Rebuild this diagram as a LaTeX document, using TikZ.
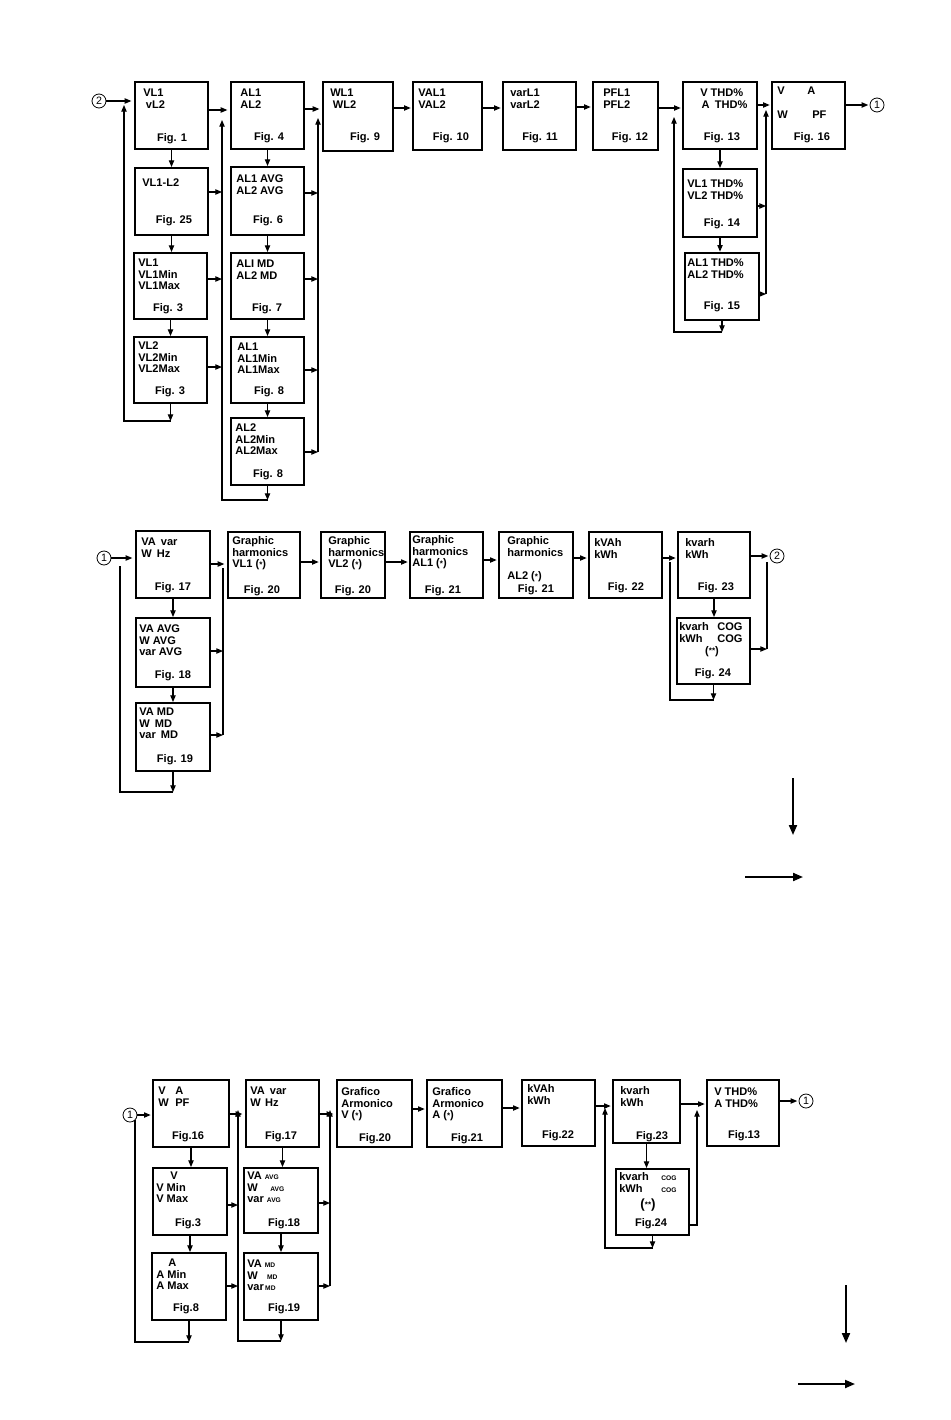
\documentclass[tikz,border=0pt]{standalone}
\usepackage{fontspec}
\setmainfont{Liberation Sans}
\usetikzlibrary{arrows.meta,fit}
\newcommand\smst{{\fontsize{6pt}{6pt}\selectfont\raisebox{0.4pt}{*}}}
\newcommand\smc[1]{{\fontsize{5pt}{5pt}\selectfont #1}}
\newcommand\Bx[6][]{\node[bx,#1, fit={(#3,#4) (#5,#6)}] (#2) {};}
\newcommand\Tx[4]{\node[tx, anchor=north west] (#1) at (#2,#3) {\rule{0pt}{6.3pt}#4};}
\newcommand\Fg[4]{\node[tx, anchor=base] (#1) at (#2,#3) {#4};}
\newcommand\Dn[2]{\draw[arr] (#1.south) -- (#1.south |- #2.north);}
\tikzset{
  bx/.style={draw, line width=1.5pt, inner sep=0pt},
  tx/.style={font=\fontsize{8.3pt}{8.6pt}\selectfont\bfseries, inner sep=0pt, align=left},
  arr/.style={line width=0.8pt, -{Triangle[length=5pt,width=4pt]}},
  ln/.style={line width=0.8pt},
  bigarr/.style={line width=1.5pt, -{Triangle[length=7.5pt,width=6pt]}},
  circ/.style={circle, draw, line width=0.6pt, minimum size=10.5pt, inner sep=0pt, font=\fontsize{8pt}{8pt}\selectfont}
}
\begin{document}
\begin{tikzpicture}[x=0.75pt,y=-0.75pt]
\fill[white] (0,0) rectangle (950,1420);
\useasboundingbox (0,0) rectangle (950,1420);

% ---------------- Section 1 ----------------
\Bx{b1}{135}{82}{208}{149}
\Tx{t1}{143}{88}{VL1\\\hspace*{2pt}vL2}
\Fg{f1}{172}{141}{Fig. 1}
\Bx{b25}{135}{168}{208}{235}
\Tx{t25}{142}{178}{VL1-L2}
\Fg{f25}{174}{223}{Fig. 25}
\Bx{b3a}{134}{253}{207}{319}
\Tx{t3a}{138}{258}{VL1\\VL1Min\\VL1Max}
\Fg{f3a}{168}{311}{Fig. 3}
\Bx{b3b}{134}{337}{207}{403}
\Tx{t3b}{138}{341}{VL2\\VL2Min\\VL2Max}
\Fg{f3b}{170}{394}{Fig. 3}

\Bx{b4}{231}{82}{304}{149}
\Tx{t4}{240}{88}{AL1\\AL2}
\Fg{f4}{269}{140}{Fig. 4}
\Bx{b6}{231}{167}{304}{235}
\Tx{t6}{236}{174}{AL1 AVG\\AL2 AVG}
\Fg{f6}{268}{223}{Fig. 6}
\Bx{b7}{231}{253}{304}{319}
\Tx{t7}{236}{259}{ALI MD\\AL2 MD}
\Fg{f7}{267}{311}{Fig. 7}
\Bx{b8a}{231}{337}{304}{403}
\Tx{t8a}{237}{342}{AL1\\AL1Min\\AL1Max}
\Fg{f8a}{269}{394}{Fig. 8}
\Bx{b8b}{231}{418}{304}{485}
\Tx{t8b}{235}{423}{AL2\\AL2Min\\AL2Max}
\Fg{f8b}{268}{477}{Fig. 8}

\Bx{b9}{323}{82}{393}{151}
\Tx{t9}{330}{88}{WL1\\\hspace*{2pt}WL2}
\Fg{f9}{365}{140}{Fig. 9}
\Bx{b10}{413}{82}{482}{150}
\Tx{t10}{418}{88}{VAL1\\VAL2}
\Fg{f10}{451}{140}{Fig. 10}
\Bx{b11}{503}{82}{576}{150}
\Tx{t11}{510}{88}{varL1\\varL2}
\Fg{f11}{540}{140}{Fig. 11}
\Bx{b12}{593}{82}{658}{150}
\Tx{t12}{603}{88}{PFL1\\PFL2}
\Fg{f12}{630}{140}{Fig. 12}
\Bx{b13}{683}{82}{757}{149}
\Tx{t13}{700}{88}{V THD\%\\\hspace*{1pt}A\hspace{4pt}THD\%}
\Fg{f13}{722}{140}{Fig. 13}
\Bx{b16}{772}{82}{845}{149}
\Tx{t16a}{777}{86}{V}
\Tx{t16b}{807}{86}{A}
\Tx{t16c}{777}{110}{W}
\Tx{t16d}{812}{110}{PF}
\Fg{f16}{812}{140}{Fig. 16}
\Bx{b14}{683}{169}{757}{237}
\Tx{t14}{687}{179}{VL1 THD\%\\VL2 THD\%}
\Fg{f14}{722}{226}{Fig. 14}
\Bx[line width=2pt]{b15}{685}{253}{759}{320}
\Tx{t15}{687}{258}{AL1 THD\%\\AL2 THD\%}
\Fg{f15}{722}{309}{Fig. 15}

\node[circ] (n2a) at (99,101) {2};
\node[circ] (n1a) at (877,105) {1};

\coordinate (L1t) at (124,105); \coordinate (L1b) at (124,421);
\coordinate (L2t) at (222,120); \coordinate (L2b) at (222,500);
\coordinate (L3t) at (318,118); \coordinate (L3b) at (318,452);
\coordinate (L4t) at (674,117); \coordinate (L4b) at (674,332);
\coordinate (L5t) at (766,110); \coordinate (L5b) at (766,294);

\draw[arr, shorten >=2pt] (n2a) -- (b1.west |- n2a);
\Dn{b1}{b25}
\Dn{b25}{b3a}
\Dn{b3a}{b3b}
\draw[arr] (b3b.south) -- (b3b.south |- L1b);
\draw[arr] (b3b.south |- L1b) -- (L1b) -- (L1t);

\draw[arr, shorten >=2pt] (b1.east |- 0,110) -- (b4.west |- 0,110);
\draw[arr] (b25.east |- 0,192) -- (L2t |- 0,192);
\draw[arr] (b3a.east |- 0,279) -- (L2t |- 0,279);
\draw[arr] (b3b.east |- 0,367) -- (L2t |- 0,367);
\Dn{b4}{b6}
\Dn{b6}{b7}
\Dn{b7}{b8a}
\Dn{b8a}{b8b}
\draw[arr] (b8b.south) -- (b8b.south |- L2b);
\draw[arr] (b8b.south |- L2b) -- (L2b) -- (L2t);

\draw[arr, shorten >=2pt] (b4.east |- 0,109) -- (b9.west |- 0,109);
\draw[arr] (b6.east |- 0,193) -- (L3t |- 0,193);
\draw[arr] (b7.east |- 0,279) -- (L3t |- 0,279);
\draw[arr] (b8a.east |- 0,370) -- (L3t |- 0,370);
\draw[arr] (b8b.east |- L3b) -- (L3b);
\draw[arr] (L3b) -- (L3t);

\draw[arr, shorten >=1pt] (b9.east |- 0,108) -- (b10.west |- 0,108);
\draw[arr, shorten >=1pt] (b10.east |- 0,108) -- (b11.west |- 0,108);
\draw[arr, shorten >=1pt] (b11.east |- 0,107) -- (b12.west |- 0,107);
\draw[arr, shorten >=1pt] (b12.east |- 0,108) -- (b13.west |- 0,108);
\Dn{b13}{b14}
\Dn{b14}{b15}
\draw[arr] (b15.south) -- (b15.south |- L4b);
\draw[arr] (b15.south |- L4b) -- (L4b) -- (L4t);
\draw[arr, shorten >=1pt] (b13.east |- 0,105) -- (b16.west |- 0,105);
\draw[arr] (b14.east |- 0,206) -- (L5t |- 0,206);
\draw[arr] (b15.east |- L5b) -- (L5b);
\draw[arr] (L5b) -- (L5t);
\draw[arr, shorten >=1pt] (b16.east |- n1a) -- (n1a);

% ---------------- Section 2 ----------------
\Bx{b17}{136}{531}{210}{598}
\Tx{t17}{141}{537}{VA \hspace{1.5pt}var\\W \hspace{1.5pt}Hz}
\Fg{f17}{173}{590}{Fig. 17}
\Bx{b18}{136}{618}{210}{687}
\Tx{t18}{139}{624}{VA AVG\\W AVG\\var AVG}
\Fg{f18}{173}{678}{Fig. 18}
\Bx{b19}{136}{703}{210}{771}
\Tx{t19}{139}{707}{VA MD\\W \hspace{1.5pt}MD\\var \hspace{1.5pt}MD}
\Fg{f19}{175}{762}{Fig. 19}
\Bx{b20}{228}{532}{300}{598}
\Tx{t20}{232}{536}{Graphic\\harmonics\\VL1 (\smst)}
\Fg{f20}{262}{593}{Fig. 20}
\Bx{b21}{321}{532}{385}{598}
\Tx{t21}{328}{536}{Graphic\\harmonics\\VL2 (\smst)}
\Fg{f21}{353}{593}{Fig. 20}
\Bx{b22}{410}{532}{483}{598}
\Tx{t22}{412}{535}{Graphic\\harmonics\\AL1 (\smst)}
\Fg{f22}{443}{593}{Fig. 21}
\Bx{b23}{499}{532}{573}{598}
\Tx{t23}{507}{536}{Graphic\\harmonics}
\Tx{t23b}{507}{571}{AL2 (\smst)}
\Fg{f23}{536}{592}{Fig. 21}
\Bx{b24}{589}{532}{662}{598}
\Tx{t24}{594}{538}{kVAh\\kWh}
\Fg{f24}{626}{590}{Fig. 22}
\Bx{b26}{678}{532}{750}{598}
\Tx{t26}{685}{538}{kvarh\\kWh}
\Fg{f26}{716}{590}{Fig. 23}
\Bx{bcog}{677}{618}{750}{684}
\Tx{tcog}{679}{622}{kvarh\\kWh}
\Tx{tcog2}{717}{622}{COG\\COG}
\Fg{tcog3}{712}{654}{(\smst\smst)}
\Fg{fcog}{713}{676}{Fig. 24}

\node[circ] (n1b) at (104,558) {1};
\node[circ] (n2b) at (777,556) {2};

\coordinate (M1t) at (120,566); \coordinate (M1b) at (120,792);
\coordinate (M2t) at (223,568); \coordinate (M2b) at (223,735);
\coordinate (M3t) at (670,562); \coordinate (M3b) at (670,700);
\coordinate (M4t) at (767,562); \coordinate (M4b) at (767,649);

\draw[arr, shorten >=2pt] (n1b) -- (b17.west |- n1b);
\Dn{b17}{b18}
\Dn{b18}{b19}
\draw[arr] (b19.south) -- (b19.south |- M1b);
\draw[ln] (b19.south |- M1b) -- (M1b) -- (M1t);
\draw[arr, shorten >=2pt] (b17.east |- 0,564) -- (b20.west |- 0,564);
\draw[arr] (b18.east |- 0,651) -- (M2t |- 0,651);
\draw[arr] (b19.east |- M2b) -- (M2b);
\draw[ln] (M2b) -- (M2t);
\draw[arr, shorten >=1pt] (b20.east |- 0,562) -- (b21.west |- 0,562);
\draw[arr, shorten >=1pt] (b21.east |- 0,562) -- (b22.west |- 0,562);
\draw[arr, shorten >=1pt] (b22.east |- 0,560) -- (b23.west |- 0,560);
\draw[arr, shorten >=1pt] (b23.east |- 0,558) -- (b24.west |- 0,558);
\draw[arr, shorten >=1pt] (b24.east |- 0,558) -- (b26.west |- 0,558);
\Dn{b26}{bcog}
\draw[arr] (bcog.south) -- (bcog.south |- M3b);
\draw[ln] (bcog.south |- M3b) -- (M3b) -- (M3t);
\draw[arr, shorten >=1pt] (b26.east |- n2b) -- (n2b);
\draw[arr] (bcog.east |- M4b) -- (M4b);
\draw[ln] (M4b) -- (M4t);

% direction arrows (upper)
\coordinate (d1s) at (793,778); \coordinate (d1e) at (793,835);
\coordinate (d2s) at (745,877); \coordinate (d2e) at (803,877);
\draw[bigarr] (d1s) -- (d1e);
\draw[bigarr] (d2s) -- (d2e);

% ---------------- Section 3 ----------------
\Bx{c16}{153}{1080}{229}{1147}
\Tx{tc16a}{158}{1086}{V\\W}
\Tx{tc16b}{175}{1086}{A\\PF}
\Fg{fc16}{188}{1139}{Fig.16}
\Bx{c3}{153}{1168}{227}{1235}
\Tx{tc3}{156}{1171}{\hspace*{10.5pt}V\\V Min\\V Max}
\Fg{fc3}{188}{1226}{Fig.3}
\Bx{c8}{152}{1253}{226}{1320}
\Tx{tc8}{156}{1258}{\hspace*{9pt}A\\A Min\\A Max}
\Fg{fc8}{186}{1311}{Fig.8}
\Bx{c17}{246}{1080}{319}{1147}
\Tx{tc17}{250}{1086}{VA \hspace{1.5pt}var\\W \hspace{1pt}Hz}
\Fg{fc17}{281}{1139}{Fig.17}
\Bx{c18}{244}{1168}{318}{1233}
\Tx{tc18}{247}{1171}{VA \smc{AVG}\\W\hspace{9.5pt}\smc{AVG}\\var \smc{AVG}}
\Fg{fc18}{284}{1226}{Fig.18}
\Bx{c19}{244}{1253}{318}{1320}
\Tx{tc19}{247}{1259}{VA \smc{MD}\\W\hspace{7pt}\smc{MD}\\var\hspace{1pt}\smc{MD}}
\Fg{fc19}{284}{1311}{Fig.19}
\Bx{c20}{337}{1080}{412}{1147}
\Tx{tc20}{341}{1087}{Grafico\\Armonico\\V (\smst)}
\Fg{fc20}{375}{1141}{Fig.20}
\Bx{c21}{427}{1080}{502}{1147}
\Tx{tc21}{432}{1087}{Grafico\\Armonico\\A (\smst)}
\Fg{fc21}{467}{1141}{Fig.21}
\Bx{c22}{522}{1080}{595}{1146}
\Tx{tc22}{527}{1084}{kVAh\\kWh}
\Fg{fc22}{558}{1138}{Fig.22}
\Bx{c23}{613}{1080}{680}{1143}
\Tx{tc23}{620}{1086}{kvarh\\kWh}
\Fg{fc23}{652}{1139}{Fig.23}
\Bx{c24}{616}{1169}{689}{1235}
\Tx{tc24}{619}{1172}{kvarh\\kWh}
\Tx{tc24b}{661}{1172}{\smc{COG}\\\smc{COG}}
\Fg{tc24c}{648}{1208}{\fontsize{10pt}{10pt}\selectfont(\smst\smst)}
\Fg{fc24}{651}{1226}{Fig.24}
\Bx{c13}{707}{1080}{779}{1146}
\Tx{tc13}{714}{1087}{V THD\%\\A THD\%}
\Fg{fc13}{744}{1138}{Fig.13}

\node[circ] (n1c) at (130,1115) {1};
\node[circ] (n1d) at (806,1101) {1};

\coordinate (B1t) at (135,1120); \coordinate (B1b) at (135,1342);
\coordinate (B2t) at (238,1110); \coordinate (B2b) at (238,1341);
\coordinate (B3t) at (330,1110); \coordinate (B3b) at (330,1286);
\coordinate (B4t) at (605,1108); \coordinate (B4b) at (605,1248);
\coordinate (B5t) at (697,1110); \coordinate (B5b) at (697,1225);

\draw[arr, shorten >=1pt] (n1c) -- (c16.west |- n1c);
\Dn{c16}{c3}
\Dn{c3}{c8}
\draw[arr] (c8.south) -- (c8.south |- B1b);
\draw[ln] (c8.south |- B1b) -- (B1b) -- (B1t);
\draw[arr, shorten >=2pt] (c16.east |- 0,1114) -- (c17.west |- 0,1114);
\draw[arr] (c3.east |- 0,1205) -- (B2t |- 0,1205);
\draw[arr] (c8.east |- 0,1286) -- (B2t |- 0,1286);
\Dn{c17}{c18}
\Dn{c18}{c19}
\draw[arr] (c19.south) -- (c19.south |- B2b);
\draw[arr] (c19.south |- B2b) -- (B2b) -- (B2t);
\draw[arr, shorten >=2pt] (c17.east |- 0,1114) -- (c20.west |- 0,1114);
\draw[arr] (c18.east |- 0,1203) -- (B3t |- 0,1203);
\draw[arr] (c19.east |- B3b) -- (B3b);
\draw[arr] (B3b) -- (B3t);
\draw[arr, shorten >=1pt] (c20.east |- 0,1109) -- (c21.west |- 0,1109);
\draw[arr, shorten >=1pt] (c21.east |- 0,1108) -- (c22.west |- 0,1108);
\draw[arr, shorten >=1pt] (c22.east |- 0,1106) -- (c23.west |- 0,1106);
\Dn{c23}{c24}
\draw[arr] (c24.south) -- (c24.south |- B4b);
\draw[arr] (c24.south |- B4b) -- (B4b) -- (B4t);
\draw[arr] (c24.east |- B5b) -- (B5b) -- (B5t);
\draw[arr, shorten >=1pt] (c23.east |- 0,1104) -- (c13.west |- 0,1104);
\draw[arr, shorten >=1pt] (c13.east |- n1d) -- (n1d);

% direction arrows (lower)
\coordinate (d3s) at (846,1285); \coordinate (d3e) at (846,1343);
\coordinate (d4s) at (798,1384); \coordinate (d4e) at (855,1384);
\draw[bigarr] (d3s) -- (d3e);
\draw[bigarr] (d4s) -- (d4e);
\end{tikzpicture}
\end{document}
